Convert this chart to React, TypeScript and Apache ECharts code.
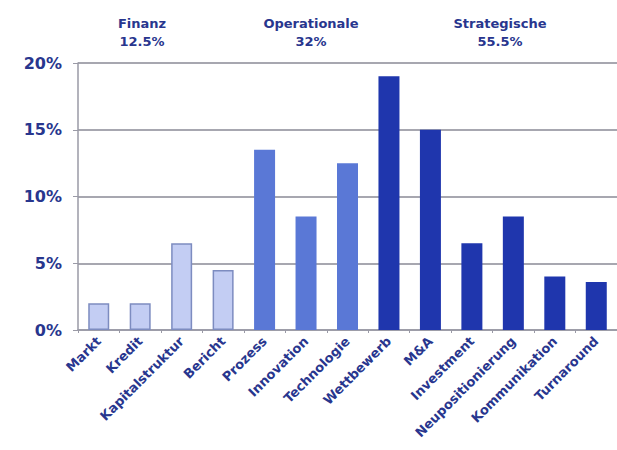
import React, { useEffect, useRef } from "react";
import * as echarts from "echarts";

const categories = ["Markt", "Kredit", "Kapitalstruktur", "Bericht", "Prozess", "Innovation", "Technologie", "Wettbewerb", "M&A", "Investment", "Neupositionierung", "Kommunikation", "Turnaround"];
const values = [2, 2, 6.5, 4.5, 13.5, 8.5, 12.5, 19, 15, 6.5, 8.5, 4, 3.6];
const groupOf = [0, 0, 0, 0, 1, 1, 1, 2, 2, 2, 2, 2, 2];
const groupNames = ["Finanz", "Operationale", "Strategische"];
const groupShares = ["12.5%", "32%", "55.5%"];
const yTicks = [0, 5, 10, 15, 20];

const fills = ["#c3cdf3", "#5a78d6", "#1f36ad"];
const borders = ["#7d8cc0", "#4a66c0", "#1f36ad"];
const textColor = "#28368e";
const font = "'DejaVu Sans', Verdana, sans-serif";

export default function App() {
  const ref = useRef<HTMLDivElement>(null);
  useEffect(() => {
    if (!ref.current) return;
    const chart = echarts.init(ref.current, null, { renderer: "svg" });
    const headerX = [142, 311, 500];
    chart.setOption({
      animation: false,
      backgroundColor: "#ffffff",
      grid: { left: 78, top: 63, bottom: 120, right: -4, containLabel: false },
      xAxis: {
        type: "category",
        data: categories,
        axisLine: { show: true, lineStyle: { color: "#9a9aa6", width: 1.5 } },
        axisTick: { show: true, length: 3, lineStyle: { color: "#9a9aa6" } },
        axisLabel: {
          rotate: 45,
          interval: 0,
          margin: 9,
          color: textColor,
          fontWeight: "bold",
          fontSize: 13,
          fontFamily: font,
        },
      },
      yAxis: {
        type: "value",
        min: yTicks[0],
        max: yTicks[yTicks.length - 1],
        interval: 5,
        axisLine: { show: true, lineStyle: { color: "#9a9aa6", width: 1.5 } },
        axisTick: { show: true, length: 5, lineStyle: { color: "#9a9aa6" } },
        axisLabel: {
          formatter: (v: number) => `${v}%`,
          color: textColor,
          fontWeight: "bold",
          fontSize: 16,
          fontFamily: font,
          margin: 16,
        },
        splitLine: { show: true, lineStyle: { color: "#8a8a96", width: 1.5 } },
      },
      series: [
        {
          type: "bar",
          data: values.map((v, i) => ({
            value: v,
            itemStyle: {
              color: fills[groupOf[i]],
              borderColor: borders[groupOf[i]],
              borderWidth: groupOf[i] === 0 ? 1.5 : 0,
            },
          })),
          barWidth: 21,
        },
      ],
      graphic: groupNames.map((name, i) => ({
        type: "text",
        x: headerX[i],
        y: 14,
        style: {
          text: `${name}\n${groupShares[i]}`,
          fill: textColor,
          font: `bold 13px ${font}`,
          align: "center",
          verticalAlign: "top",
          lineHeight: 18,
        },
      })),
    });
    return () => chart.dispose();
  }, []);
  return <div ref={ref} style={{ width: 617, height: 450, position: "absolute", left: 0, top: 0 }} />;
}
